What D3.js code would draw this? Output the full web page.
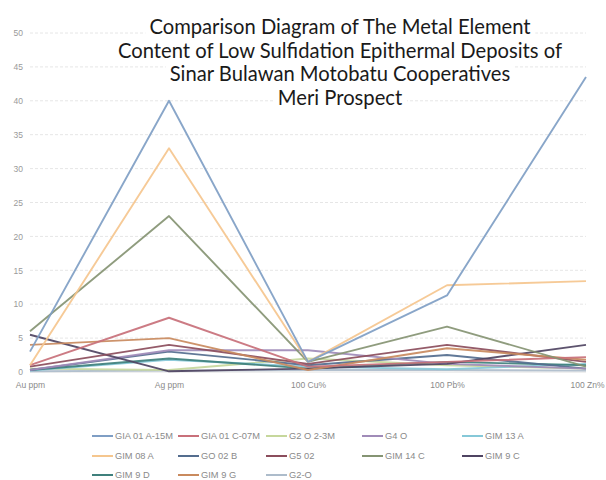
<!DOCTYPE html>
<html><head><meta charset="utf-8">
<script src="https://cdn.jsdelivr.net/npm/d3@7"></script>
<style>html,body{margin:0;padding:0;background:#fff;}svg{display:block;}</style>
</head><body>
<svg id="chart" width="606" height="480"></svg>
<script>
const categories = ["Au ppm", "Ag ppm", "100 Cu%", "100 Pb%", "100 Zn%"];
const seriesNames = ["GIA 01 A-15M","GIA 01 C-07M","G2 O 2-3M","G4 O","GIM 13 A","GIM 08 A","GO 02 B","G5 02","GIM 14 C","GIM 9 C","GIM 9 D","GIM 9 G","G2-O"];
const GIA01A = [3, 40, 1.5, 11.3, 43.5];
const GIA01C = [1, 8, 0.8, 1.5, 2.2];
const G2O23M = [0.5, 0.3, 2, 1, 0.5];
const G4O = [0.3, 3.2, 3.2, 1.2, 0.5];
const GIM13A = [0.2, 1.8, 0.8, 0.4, 1.2];
const GIM08A = [1, 33, 1.5, 12.8, 13.4];
const GO02B = [0.3, 3, 1, 2.5, 0.5];
const G502 = [0.8, 4, 1.2, 4, 1.5];
const GIM14C = [6, 23, 1.5, 6.7, 0.8];
const GIM9C = [5.5, 0.1, 0.5, 1.2, 4];
const GIM9D = [0.3, 2, 0.5, 1.5, 1];
const GIM9G = [4, 5, 0.3, 3.5, 1.8];
const G2O = [0.1, 0.2, 0.3, 0.3, 0.2];
const seriesValues = [GIA01A, GIA01C, G2O23M, G4O, GIM13A, GIM08A, GO02B, G502, GIM14C, GIM9C, GIM9D, GIM9G, G2O];
const colors = ["#7f9ec4","#c8707a","#c6d79c","#a08bb8","#86c8d8","#f5c68e","#546d8e","#8b4d5c","#859473","#4f4462","#3f807c","#c98a5e","#adbccb"];
const yTicks = [0,5,10,15,20,25,30,35,40,45,50];
const titleLines = ["Comparison Diagram of The Metal Element","Content of Low Sulfidation Epithermal Deposits of","Sinar Bulawan Motobatu Cooperatives","Meri Prospect"];

const svg = d3.select("#chart");
const x = d3.scalePoint().domain(categories).range([30, 586]);
const y = d3.scaleLinear().domain([0, 50]).range([372, 33]);
const smallFont = "'Liberation Sans', Arial, sans-serif";

// gridlines
svg.append("g").selectAll("line").data(yTicks.filter(d=>d>0)).join("line")
  .attr("x1", 30).attr("x2", 586)
  .attr("y1", d=>y(d)).attr("y2", d=>y(d))
  .attr("stroke", "#e6e6e6").attr("stroke-width", 1).attr("stroke-dasharray", "3,2");

// y axis labels
const yAxis = d3.axisLeft(y).tickValues(yTicks).tickSize(0).tickPadding(0);
const ga = svg.append("g").attr("transform", "translate(23,0)").call(yAxis);
ga.select(".domain").remove();
ga.selectAll("text").attr("fill", "#9a9a9a").style("font-family", smallFont).style("font-size", "8.5px");

// title background boxes + text
const tg = svg.append("g");
const tTexts = tg.selectAll("text").data(titleLines).join("text")
  .attr("x", 340).attr("y", (d,i)=>34 + i*23.5)
  .attr("text-anchor", "middle")
  .style("font-family", "Lato, 'Open Sans', sans-serif").style("font-size", "20.2px")
  .attr("fill", "#1a1a1a").text(d=>d);
tTexts.each(function(){
  const b = this.getBBox();
  tg.insert("rect", "text").attr("x", b.x-4).attr("y", b.y).attr("width", b.width+8).attr("height", b.height).attr("fill", "#fff");
});

// x axis labels
const xAxis = d3.axisBottom(x).tickSize(0).tickPadding(0);
const gx = svg.append("g").attr("transform", "translate(0,382)").call(xAxis);
gx.select(".domain").remove();
gx.selectAll("text").attr("fill", "#8a8a8a").style("font-family", smallFont).style("font-size", "8.5px")
  .attr("text-anchor", (d,i)=> i===4 ? "end" : "middle")
  .attr("dx", (d,i)=> i===4 ? "18px" : "0");

// baseline (0) line
svg.append("line").attr("x1",30).attr("x2",586).attr("y1",y(0)).attr("y2",y(0)).attr("stroke","#e0e0e0");

// series lines
const line = d3.line().x((d,i)=>x(categories[i])).y(d=>y(d));
const order = [12,2,4,10,6,3,9,7,11,1,8,5,0];
svg.append("g").selectAll("path").data(order).join("path")
  .attr("d", i=>line(seriesValues[i]))
  .attr("fill", "none").attr("stroke", i=>colors[i]).attr("stroke-width", 1.9)
  .attr("stroke-linejoin", "round").attr("opacity", 0.92);

// legend
const legX = [92, 178, 266, 362, 462];
const legY = [436, 456, 475];
const lg = svg.append("g").selectAll("g").data(seriesNames).join("g")
  .attr("transform", (d,i)=>`translate(${legX[i%5]},${legY[Math.floor(i/5)]})`);
lg.append("line").attr("x1",0).attr("x2",21).attr("y1",0).attr("y2",0)
  .attr("stroke",(d,i)=>colors[i]).attr("stroke-width",2);
lg.append("text").attr("x",23).attr("y",3).text(d=>d)
  .attr("fill","#8a8a8a").style("font-family",smallFont).style("font-size","9.3px");
</script>
</body></html>
